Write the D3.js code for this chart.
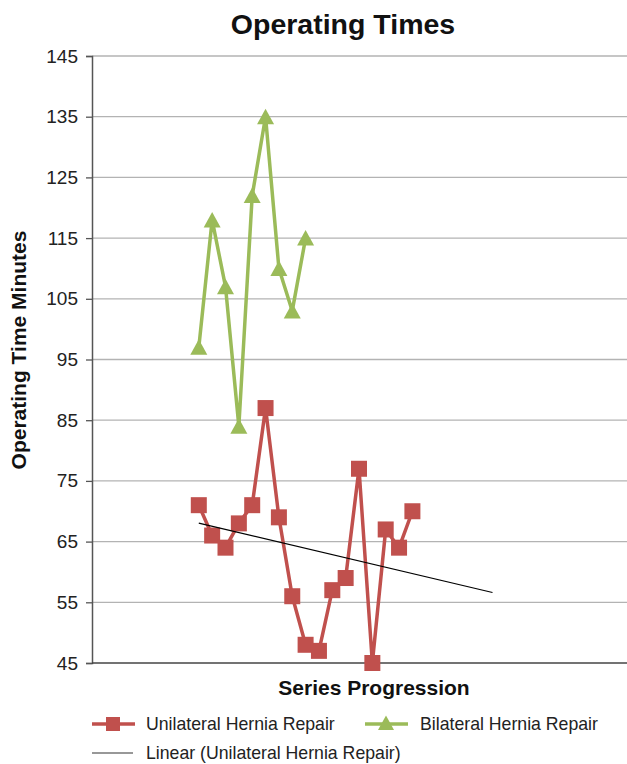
<!DOCTYPE html>
<html><head><meta charset="utf-8">
<script src="https://cdn.jsdelivr.net/npm/d3@7"></script>
<style>body{margin:0;background:#fff}svg{display:block;font-family:"Liberation Sans",Arial,Helvetica,sans-serif}</style>
</head><body><svg id="c" width="627" height="764"></svg>
<script>
const unilateral = [71, 66, 64, 68, 71, 87, 69, 56, 48, 47, 57, 59, 77, 45, 67, 64, 70];
const bilateral = [97, 118, 107, 84, 122, 135, 110, 103, 115];
const yTicks = [45, 55, 65, 75, 85, 95, 105, 115, 125, 135, 145];
const startIndex = 8;       // first plotted category slot
const totalSlots = 40;      // category slots across the axis
const forecastForward = 6;  // trendline forecast periods

const svg = d3.select("#c");
const L = 92, R = 626, T = 56, B = 663;
const x = d3.scaleLinear().domain([0, totalSlots]).range([L, R]);
const y = d3.scaleLinear().domain([45, 145]).range([B, T]);

// gridlines
svg.append("g").selectAll("line").data(yTicks.slice(1)).join("line")
  .attr("x1", L).attr("x2", 627).attr("y1", d => y(d)).attr("y2", d => y(d))
  .attr("stroke", "#b3b3b3").attr("stroke-width", 1.3);

// y axis
const yAxis = svg.append("g").attr("transform", `translate(${L},0)`)
  .call(d3.axisLeft(y).tickValues(yTicks).tickSize(6).tickPadding(8));
yAxis.select(".domain").attr("stroke", "#555").attr("stroke-width", 1.5);
yAxis.selectAll(".tick line").attr("stroke", "#555").attr("stroke-width", 1.3);
yAxis.selectAll(".tick text").attr("font-size", 19).attr("fill", "#222")
  .attr("font-family", "Liberation Sans, Arial, sans-serif");

// x axis line
svg.append("line").attr("x1", L).attr("x2", 627).attr("y1", B).attr("y2", B)
  .attr("stroke", "#444").attr("stroke-width", 1.5);

const red = "#C0504D", green = "#9BBB59";
const line = d3.line().x((d, i) => x(startIndex + i)).y(d => y(d));

// trendline (least squares on unilateral)
const n = unilateral.length;
const xs = d3.range(1, n + 1);
const mx = d3.mean(xs), my = d3.mean(unilateral);
const slope = d3.sum(xs, (v, i) => (v - mx) * (unilateral[i] - my)) / d3.sum(xs, v => (v - mx) ** 2);
const icpt = my - slope * mx;
const tEnd = n + forecastForward;

// series
svg.append("path").datum(bilateral).attr("d", line).attr("fill", "none")
  .attr("stroke", green).attr("stroke-width", 3.5).attr("stroke-linejoin", "round");
svg.append("path").datum(unilateral).attr("d", line).attr("fill", "none")
  .attr("stroke", red).attr("stroke-width", 3.5).attr("stroke-linejoin", "round");

const triPath = "M0,-8L8.5,7.5L-8.5,7.5Z";
svg.append("g").selectAll("path").data(bilateral).join("path")
  .attr("d", triPath).attr("fill", green)
  .attr("transform", (d, i) => `translate(${x(startIndex + i)},${y(d)})`);
svg.append("g").selectAll("rect").data(unilateral).join("rect")
  .attr("x", (d, i) => x(startIndex + i) - 8).attr("y", d => y(d) - 8)
  .attr("width", 16).attr("height", 16).attr("fill", red);

svg.append("line")
  .attr("x1", x(startIndex)).attr("y1", y(icpt + slope * 1))
  .attr("x2", x(startIndex + tEnd - 1)).attr("y2", y(icpt + slope * tEnd))
  .attr("stroke", "#000").attr("stroke-width", 1.2);

// titles
svg.append("text").attr("x", 343).attr("y", 34).attr("text-anchor", "middle")
  .attr("font-size", 28.5).attr("font-weight", "bold").attr("fill", "#111").text("Operating Times");
svg.append("text").attr("transform", "translate(26,350) rotate(-90)").attr("text-anchor", "middle")
  .attr("font-size", 21).attr("font-weight", "bold").attr("fill", "#111").text("Operating Time Minutes");
svg.append("text").attr("x", 374).attr("y", 695).attr("text-anchor", "middle")
  .attr("font-size", 21).attr("font-weight", "bold").attr("fill", "#111").text("Series Progression");

// legend
const lg = svg.append("g").attr("font-size", 17.7).attr("fill", "#222");
lg.append("line").attr("x1", 92).attr("x2", 135).attr("y1", 724).attr("y2", 724).attr("stroke", red).attr("stroke-width", 3.5);
lg.append("rect").attr("x", 106).attr("y", 717).attr("width", 14).attr("height", 14).attr("fill", red);
lg.append("text").attr("x", 146).attr("y", 730).text("Unilateral Hernia Repair");
lg.append("line").attr("x1", 365).attr("x2", 408).attr("y1", 724).attr("y2", 724).attr("stroke", green).attr("stroke-width", 3.5);
lg.append("path").attr("d", "M0,-7.5L8,7L-8,7Z").attr("fill", green).attr("transform", "translate(386,723)");
lg.append("text").attr("x", 420).attr("y", 730).text("Bilateral Hernia Repair");
lg.append("line").attr("x1", 92).attr("x2", 133).attr("y1", 753).attr("y2", 753).attr("stroke", "#333").attr("stroke-width", 1.2);
lg.append("text").attr("x", 146).attr("y", 759).text("Linear (Unilateral Hernia Repair)");
</script></body></html>
